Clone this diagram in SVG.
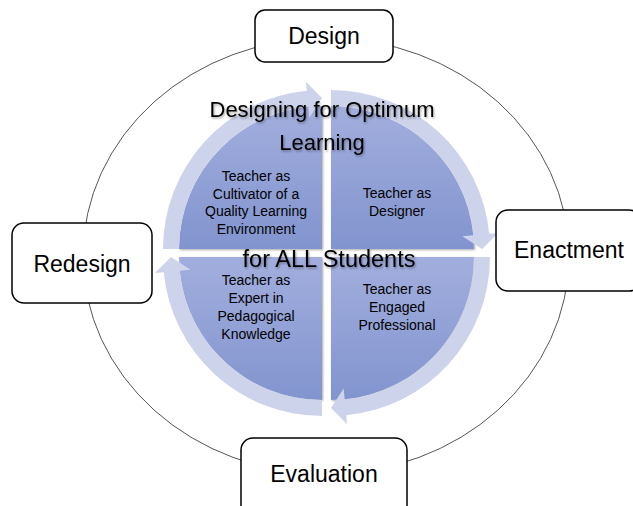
<svg xmlns="http://www.w3.org/2000/svg" xmlns:xlink="http://www.w3.org/1999/xlink" width="633" height="506" viewBox="0 0 633 506">
  <style>
    .box { fill: #ffffff; stroke: #000000; stroke-width: 1.5; }
    .boxlabel { font-family: "Liberation Sans", Arial, sans-serif; font-size: 23px; fill: #000000; text-anchor: middle; }
    .qlabel { font-family: "Liberation Sans", Arial, sans-serif; font-size: 14px; fill: #000000; text-anchor: middle; }
    .title { font-family: "Liberation Sans", Arial, sans-serif; font-size: 22px; fill: #000000; text-anchor: middle; }
    .title-big { font-size: 23.5px; }
    .quarter { fill: url(#qgrad); }
    .arrow { fill: #cdd3ea; }
    .cycle { fill: none; stroke: #555555; stroke-width: 1; }
  </style>
  <defs>
    <linearGradient id="qgrad" x1="0" y1="0" x2="0" y2="1">
      <stop offset="0" stop-color="#a2aedd"/>
      <stop offset="1" stop-color="#8294cf"/>
    </linearGradient>
    <filter id="qshadow" x="-10%" y="-10%" width="120%" height="120%">
      <feDropShadow dx="1" dy="1" stdDeviation="0.8" flood-color="#000" flood-opacity="0.35"/>
    </filter>
    <filter id="tshadow" x="-10%" y="-30%" width="120%" height="160%">
      <feDropShadow dx="1" dy="1.5" stdDeviation="1" flood-color="#000" flood-opacity="0.35"/>
    </filter>
    <path id="arc-arrow" d="M-159,0 A159,159 0 0 1 -15.23,-158.27 L-16.10,-167.23 L0,-151 L-12.65,-131.39 L-13.70,-142.34 A143,143 0 0 0 -143,0 Z"/>
  </defs>

  <g id="connectors">
    <ellipse class="cycle" cx="326" cy="256" rx="243" ry="218"/>
  </g>

  <g id="quadrants">
    <g id="q-cultivator">
      <path class="quarter" filter="url(#qshadow)" d="M322,249 L179,249 A143,143 0 0 1 322,106 Z"/>
      <use xlink:href="#arc-arrow" class="arrow" transform="translate(322,249)"/>
      <text class="qlabel" x="256" y="181">Teacher as</text>
      <text class="qlabel" x="256" y="199">Cultivator of a</text>
      <text class="qlabel" x="256" y="216">Quality Learning</text>
      <text class="qlabel" x="256" y="234">Environment</text>
    </g>
    <g id="q-designer">
      <path class="quarter" filter="url(#qshadow)" d="M331,249 L331,106 A143,143 0 0 1 474,249 Z"/>
      <use xlink:href="#arc-arrow" class="arrow" transform="translate(331,249) rotate(90)"/>
      <text class="qlabel" x="397" y="198">Teacher as</text>
      <text class="qlabel" x="397" y="216">Designer</text>
    </g>
    <g id="q-professional">
      <path class="quarter" filter="url(#qshadow)" d="M331,257 L474,257 A143,143 0 0 1 331,400 Z"/>
      <use xlink:href="#arc-arrow" class="arrow" transform="translate(331,257) rotate(180)"/>
      <text class="qlabel" x="397" y="294">Teacher as</text>
      <text class="qlabel" x="397" y="312">Engaged</text>
      <text class="qlabel" x="397" y="330">Professional</text>
    </g>
    <g id="q-expert">
      <path class="quarter" filter="url(#qshadow)" d="M322,257 L322,400 A143,143 0 0 1 179,257 Z"/>
      <use xlink:href="#arc-arrow" class="arrow" transform="translate(322,257) rotate(270)"/>
      <text class="qlabel" x="256" y="285">Teacher as</text>
      <text class="qlabel" x="256" y="303">Expert in</text>
      <text class="qlabel" x="256" y="321">Pedagogical</text>
      <text class="qlabel" x="256" y="339">Knowledge</text>
    </g>
  </g>

  <g id="title" filter="url(#tshadow)">
    <text class="title" x="322" y="117">Designing for Optimum</text>
    <text class="title" x="322" y="150">Learning</text>
    <text class="title title-big" x="329" y="267">for ALL Students</text>
  </g>

  <g id="design">
    <rect class="box" x="255" y="10" width="138" height="52" rx="10"/>
    <text class="boxlabel" x="324" y="44">Design</text>
  </g>
  <g id="enactment">
    <rect class="box" x="496" y="210" width="145" height="81" rx="12"/>
    <text class="boxlabel" x="569" y="258">Enactment</text>
  </g>
  <g id="evaluation">
    <rect class="box" x="241" y="438" width="166" height="80" rx="12"/>
    <text class="boxlabel" x="324" y="482">Evaluation</text>
  </g>
  <g id="redesign">
    <rect class="box" x="12" y="223" width="140" height="80" rx="12"/>
    <text class="boxlabel" x="82" y="272">Redesign</text>
  </g>
</svg>
